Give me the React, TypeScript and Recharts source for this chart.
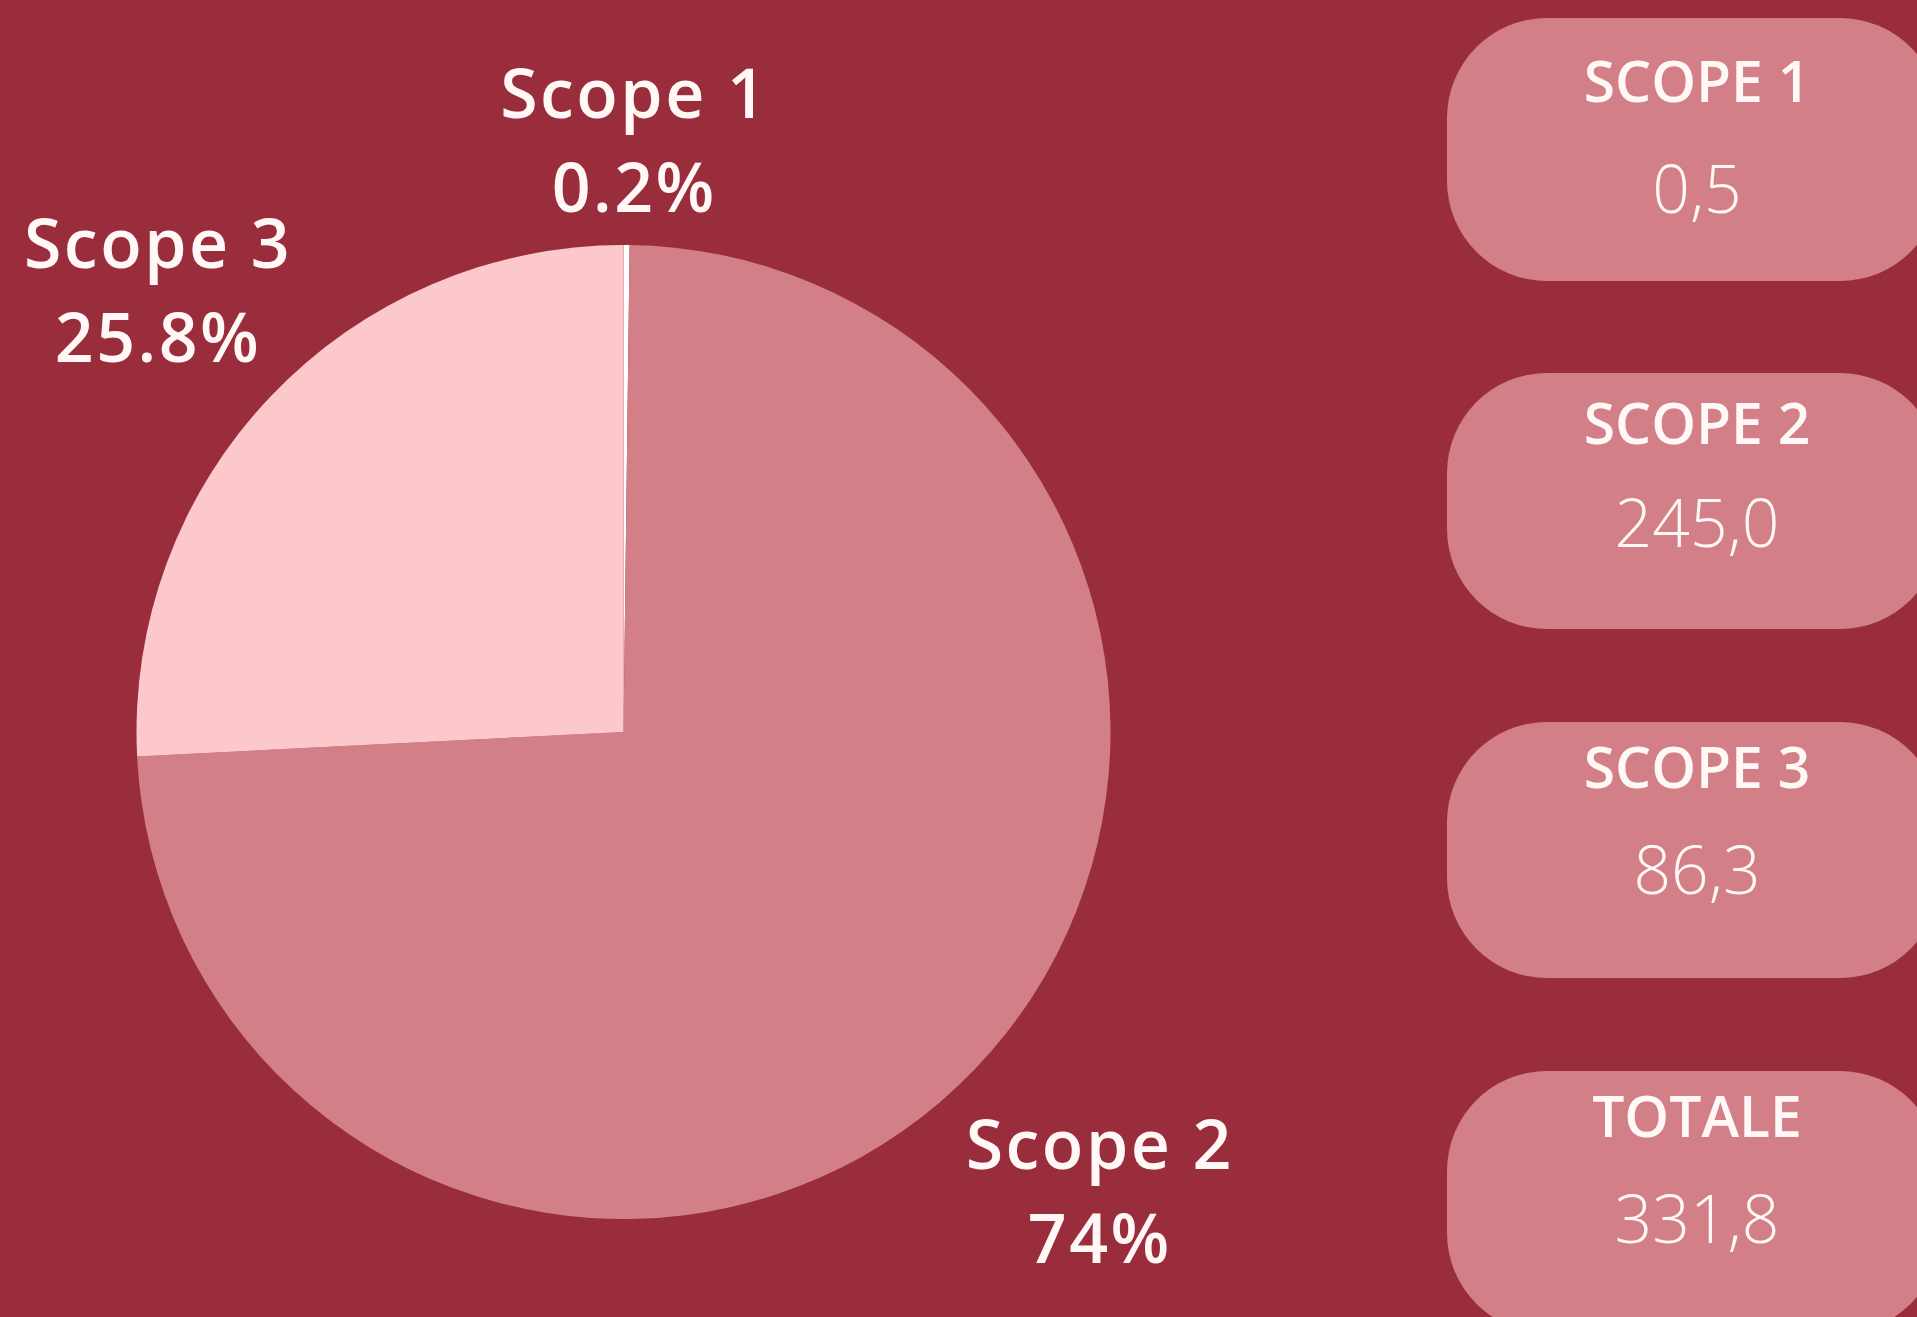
import React from "react";
import { PieChart, Pie, Cell } from "recharts";

const scopeNames = ["Scope 1", "Scope 2", "Scope 3"];
const scopeShares = [0.2, 74, 25.8];
const shareLabels = ["0.2%", "74%", "25.8%"];
const sliceColors = ["#FFFFFF", "#D27F88", "#FDC8CC"];

const cardTitles = ["SCOPE 1", "SCOPE 2", "SCOPE 3", "TOTALE"];
const cardValues = ["0,5", "245,0", "86,3", "331,8"];

const BG = "#9A2D3B";
const CARD = "#D27F88";
const TEXT = "#FFF8F6";
const FONT = "'Open Sans', 'Noto Sans', sans-serif";

const cardLayout = [
  { top: 18, height: 263, titleBase: 102, valueBase: 213 },
  { top: 373, height: 256, titleBase: 444, valueBase: 547 },
  { top: 722, height: 256, titleBase: 788, valueBase: 894 },
  { top: 1071, height: 262, titleBase: 1137, valueBase: 1243 },
];

const pieData = scopeNames.map((name, i) => ({
  name,
  value: scopeShares[i],
  label: shareLabels[i],
}));

const RAD = Math.PI / 180;
const LABEL_SHIFT_X = 7;
const LABEL_SHIFT_Y = 9;
const LABEL_BASE = 112;
const LABEL_WIDE = 73;

const renderLabel = (props: any) => {
  const { cx, cy, midAngle, outerRadius, index } = props;
  const c = Math.cos(-midAngle * RAD);
  const s = Math.sin(-midAngle * RAD);
  const dist = outerRadius + LABEL_BASE + LABEL_WIDE * Math.abs(c);
  const x = cx + LABEL_SHIFT_X + dist * c;
  const y = cy + LABEL_SHIFT_Y + dist * s;
  return (
    <text
      key={`lbl-${index}`}
      x={x}
      textAnchor="middle"
      fill={TEXT}
      fontFamily={FONT}
      fontWeight={600}
      fontSize={68}
      letterSpacing={2.5}
    >
      <tspan x={x} y={y - 23.5}>
        {pieData[index].name}
      </tspan>
      <tspan x={x} y={y + 70.5}>
        {pieData[index].label}
      </tspan>
    </text>
  );
};

export default function App() {
  return (
    <div
      style={{
        position: "relative",
        width: 1917,
        height: 1317,
        background: BG,
        overflow: "hidden",
        fontFamily: FONT,
      }}
    >
      <style>{`html,body{margin:0;padding:0;background:${BG};}`}</style>
      <div style={{ position: "absolute", left: 0, top: 0 }}>
        <PieChart
          width={1917}
          height={1317}
          margin={{ top: 0, right: 0, bottom: 0, left: 0 }}
        >
          <Pie
            data={pieData}
            dataKey="value"
            nameKey="name"
            cx={623.5}
            cy={732}
            outerRadius={487}
            startAngle={90}
            endAngle={-270}
            stroke="none"
            labelLine={false}
            label={renderLabel}
            isAnimationActive={false}
          >
            {pieData.map((d, i) => (
              <Cell key={d.name} fill={sliceColors[i]} />
            ))}
          </Pie>
        </PieChart>
      </div>
      <svg
        width={1917}
        height={1317}
        style={{ position: "absolute", left: 0, top: 0, pointerEvents: "none" }}
      >
        {cardTitles.map((t, i) => {
          const L = cardLayout[i];
          const left = 1447;
          const w = 493;
          const cxText = 1697;
          return (
            <g key={t}>
              <rect
                x={left}
                y={L.top}
                width={w}
                height={L.height}
                rx={100}
                ry={100}
                fill={CARD}
              />
              <text
                x={cxText}
                y={L.titleBase}
                textAnchor="middle"
                fill={TEXT}
                fontFamily={FONT}
                fontWeight={600}
                fontSize={57}
              >
                {t}
              </text>
              <text
                x={cxText}
                y={L.valueBase}
                textAnchor="middle"
                fill={TEXT}
                fontFamily={FONT}
                fontWeight={350}
                fontSize={66}
              >
                {cardValues[i]}
              </text>
            </g>
          );
        })}
      </svg>
    </div>
  );
}
